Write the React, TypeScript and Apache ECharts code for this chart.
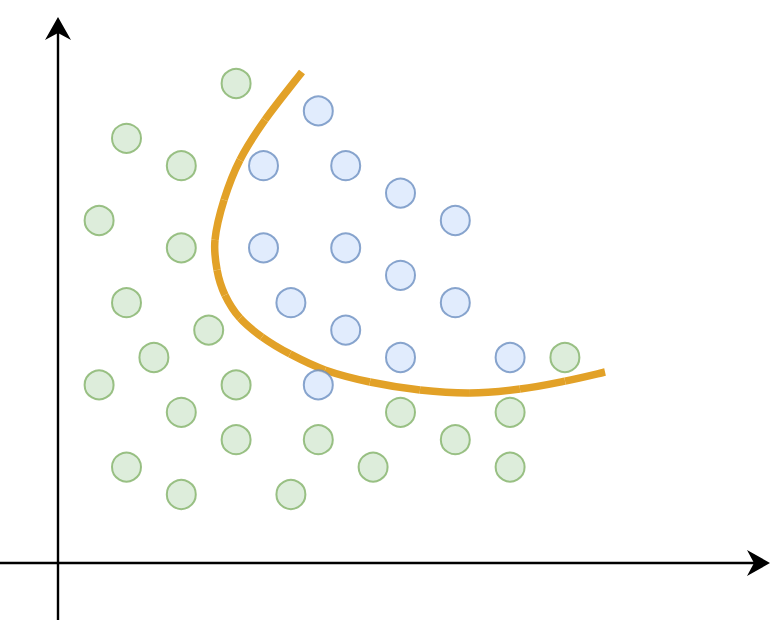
import React, { useEffect, useRef } from "react";
import * as echarts from "echarts";

// Points in grid units (origin at the axes crossing)
const greenPoints: number[][] = [
  [13, 35], [5, 31], [9, 29], [3, 25], [9, 23], [5, 19], [11, 17], [7, 15],
  [3, 13], [13, 13], [9, 11], [13, 9], [19, 9], [5, 7], [23, 7], [9, 5],
  [17, 5], [25, 11], [29, 9], [33, 11], [33, 7], [37, 15],
];

const bluePoints: number[][] = [
  [19, 33], [15, 29], [21, 29], [25, 27], [29, 25], [15, 23], [21, 23],
  [25, 21], [17, 19], [29, 19], [21, 17], [25, 15], [33, 15], [19, 13],
];

const boundaryCurve: number[][] = [
  [17.81, 35.84], [15.11, 32.34], [13.28, 29.42], [12.12, 26.5], [11.46, 23.58],
  [11.61, 21.39], [12.19, 19.56], [13.28, 17.88], [14.89, 16.5], [16.93, 15.26],
  [19.49, 14.09], [22.77, 13.21], [26.42, 12.63], [30.07, 12.41], [33.72, 12.7],
  [37.01, 13.28], [39.93, 13.94],
];

const UNIT = 13.7;
const W = 782;
const H = 620;
const ORIGIN_X = 58;
const ORIGIN_Y = 563;
const X_END = 758.5;
const Y_END = 28.5;

const arrow = "path://M13,0 L26,23 L13,16 L0,23 Z";

export default function App() {
  const ref = useRef<HTMLDivElement>(null);
  useEffect(() => {
    if (!ref.current) return;
    const chart = echarts.init(ref.current, undefined, { renderer: "svg" });
    const axisCommon = {
      type: "value" as const,
      axisTick: { show: false },
      axisLabel: { show: false },
      splitLine: { show: false },
      axisLine: {
        show: true,
        onZero: true,
        symbol: ["none", arrow],
        symbolSize: [26, 23],
        lineStyle: { color: "#000", width: 2.4 },
      },
    };
    const n = boundaryCurve.length;
    chart.setOption({
      animation: false,
      backgroundColor: "#ffffff",
      grid: { left: 0, right: W - X_END, top: Y_END, bottom: 0, containLabel: false },
      xAxis: {
        ...axisCommon,
        min: -ORIGIN_X / UNIT,
        max: (X_END - ORIGIN_X) / UNIT,
      },
      yAxis: {
        ...axisCommon,
        min: -(H - ORIGIN_Y) / UNIT,
        max: (ORIGIN_Y - Y_END) / UNIT,
      },
      series: [
        {
          type: "custom",
          data: boundaryCurve,
          z: 1,
          renderItem: (params: any, api: any) => {
            const i = params.dataIndex;
            if (i >= n - 1) return null;
            const p0 = api.coord(boundaryCurve[Math.max(i - 1, 0)]);
            const p1 = api.coord(boundaryCurve[i]);
            const p2 = api.coord(boundaryCurve[i + 1]);
            const p3 = api.coord(boundaryCurve[Math.min(i + 2, n - 1)]);
            return {
              type: "bezierCurve",
              shape: {
                x1: p1[0],
                y1: p1[1],
                cpx1: p1[0] + (p2[0] - p0[0]) / 6,
                cpy1: p1[1] + (p2[1] - p0[1]) / 6,
                cpx2: p2[0] - (p3[0] - p1[0]) / 6,
                cpy2: p2[1] - (p3[1] - p1[1]) / 6,
                x2: p2[0],
                y2: p2[1],
              },
              style: { stroke: "#e2a127", lineWidth: 7.5, fill: null, lineCap: "butt" },
            };
          },
        },
        {
          type: "scatter",
          data: greenPoints,
          symbol: "circle",
          symbolSize: 29,
          itemStyle: { color: "#d5e8d2", borderColor: "#82b268", borderWidth: 2 },
          z: 2,
        },
        {
          type: "scatter",
          data: bluePoints,
          symbol: "circle",
          symbolSize: 29,
          itemStyle: { color: "#dae7fc", borderColor: "#6c8ec0", borderWidth: 2 },
          z: 2,
        },
      ],
    });
    return () => chart.dispose();
  }, []);
  return (
    <div
      ref={ref}
      style={{ position: "fixed", left: 0, top: 0, width: W, height: H, background: "#fff" }}
    />
  );
}
